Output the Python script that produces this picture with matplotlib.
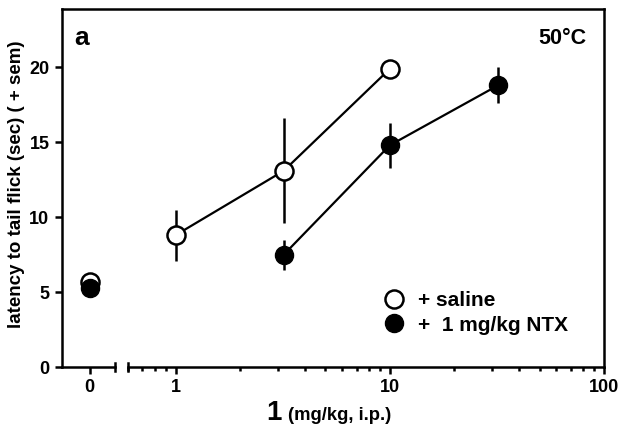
import matplotlib.pyplot as plt
from matplotlib.lines import Line2D

plt.rcParams['font.family'] = ['Liberation Sans', 'DejaVu Sans']
plt.rcParams['font.weight'] = 'bold'

# dose of compound 1 (mg/kg, i.p.)
dose = [1, 3.2, 10]
dose_ntx = [3.2, 10, 32]

# latency (sec) and sem
saline_zero, saline_zero_err = 5.7, 0.2
ntx_zero, ntx_zero_err = 5.3, 0.5
saline = [8.8, 13.1, 19.9]
saline_err = [1.7, 3.5, 0.3]
ntx = [7.5, 14.8, 18.8]
ntx_err = [1.0, 1.5, 1.2]

W, H = 621, 434
fig = plt.figure(figsize=(W / 100, H / 100), dpi=100)

x0, x_brk1, x_brk2, x1 = 62, 115, 128, 604
y_bot, y_top = 367, 9
bot = 1 - y_bot / H
hgt = (y_bot - y_top) / H
ylim = (0, 23.9)
lw = 1.8

bg = fig.add_axes([x0 / W, bot, (x1 - x0) / W, hgt])
bg.set_xticks([])
bg.set_yticks([])
bg.patch.set_visible(False)
for s in ['left', 'bottom', 'right']:
    bg.spines[s].set_visible(False)
bg.spines['top'].set_linewidth(lw)

axl = fig.add_axes([x0 / W, bot, (x_brk1 - x0) / W, hgt])
axr = fig.add_axes([x_brk2 / W, bot, (x1 - x_brk2) / W, hgt])

for ax in (axl, axr):
    ax.patch.set_visible(False)
    ax.set_ylim(*ylim)
    ax.spines['top'].set_visible(False)
    for s in ax.spines.values():
        s.set_linewidth(lw)
    ax.tick_params(width=lw, length=5, labelsize=13, colors='black', pad=4)

axl.spines['right'].set_visible(False)
axr.spines['left'].set_visible(False)
axr.tick_params(axis='y', left=False, labelleft=False)

# break marks at the ends of the split x axis
axl.plot([1, 1], [-0.011, 0.011], transform=axl.transAxes, color='black',
         lw=lw, clip_on=False)
axr.plot([0, 0], [-0.011, 0.011], transform=axr.transAxes, color='black',
         lw=lw, clip_on=False)

# left segment: dose 0
axl.set_xlim(-1.05, 0.97)
axl.set_xticks([0])
axl.set_xticklabels(['0'])
axl.set_yticks([0, 5, 10, 15, 20])
axl.set_yticklabels(['0', '5', '10', '15', '20'])

ms = 13
axl.errorbar([0], [saline_zero], yerr=[saline_zero_err], fmt='o', color='black',
             mfc='white', mec='black', mew=1.8, ms=ms, elinewidth=lw, capsize=0,
             clip_on=False, zorder=3)
axl.errorbar([0], [ntx_zero], yerr=[ntx_zero_err], fmt='o', color='black',
             mfc='black', mec='black', ms=ms, elinewidth=lw, capsize=0,
             clip_on=False, zorder=4)

# right segment: log dose
axr.set_xscale('log')
axr.set_xlim(0.6, 100)
axr.set_xticks([1, 10, 100])
axr.set_xticklabels(['1', '10', '100'])
axr.tick_params(axis='x', which='minor', width=lw, length=3)

axr.errorbar(dose, saline, yerr=saline_err, fmt='-o', color='black',
             mfc='white', mec='black', mew=1.8, ms=ms, lw=1.6, elinewidth=lw,
             capsize=0, zorder=3)
axr.errorbar(dose_ntx, ntx, yerr=ntx_err, fmt='-o', color='black',
             mfc='black', mec='black', ms=ms, lw=1.6, elinewidth=lw,
             capsize=0, zorder=4)

handles = [Line2D([], [], ls='none', marker='o', ms=ms, mfc='white', mec='black', mew=1.8),
           Line2D([], [], ls='none', marker='o', ms=ms, mfc='black', mec='black')]
axr.legend(handles, ['+ saline', '+  1 mg/kg NTX'], loc='center left',
           bbox_to_anchor=((371 - x_brk2) / (x1 - x_brk2), (y_bot - 313) / (y_bot - y_top)),
           frameon=False, handletextpad=0.55, handlelength=1.2,
           labelspacing=0.25, borderpad=0, prop={'size': 15, 'weight': 'bold'})

fig.text(74 / W, 1 - 38 / H, 'a', fontsize=19, fontweight='bold', va='center')
fig.text(586 / W, 1 - 39 / H, '50°C', fontsize=15.5, fontweight='bold',
         va='center', ha='right')
fig.text(17 / W, 1 - 184 / H, 'latency to tail flick (sec) ( + sem)',
         rotation=90, fontsize=13.5, fontweight='bold', va='center', ha='center')

fig.text(282 / W, 1 - 413 / H, '1', fontsize=20, fontweight='bold',
         va='center', ha='right')
fig.text(288 / W, 1 - 416 / H, '(mg/kg, i.p.)', fontsize=13.3, fontweight='bold',
         va='center', ha='left')

fig.savefig('out.png', dpi=100)
